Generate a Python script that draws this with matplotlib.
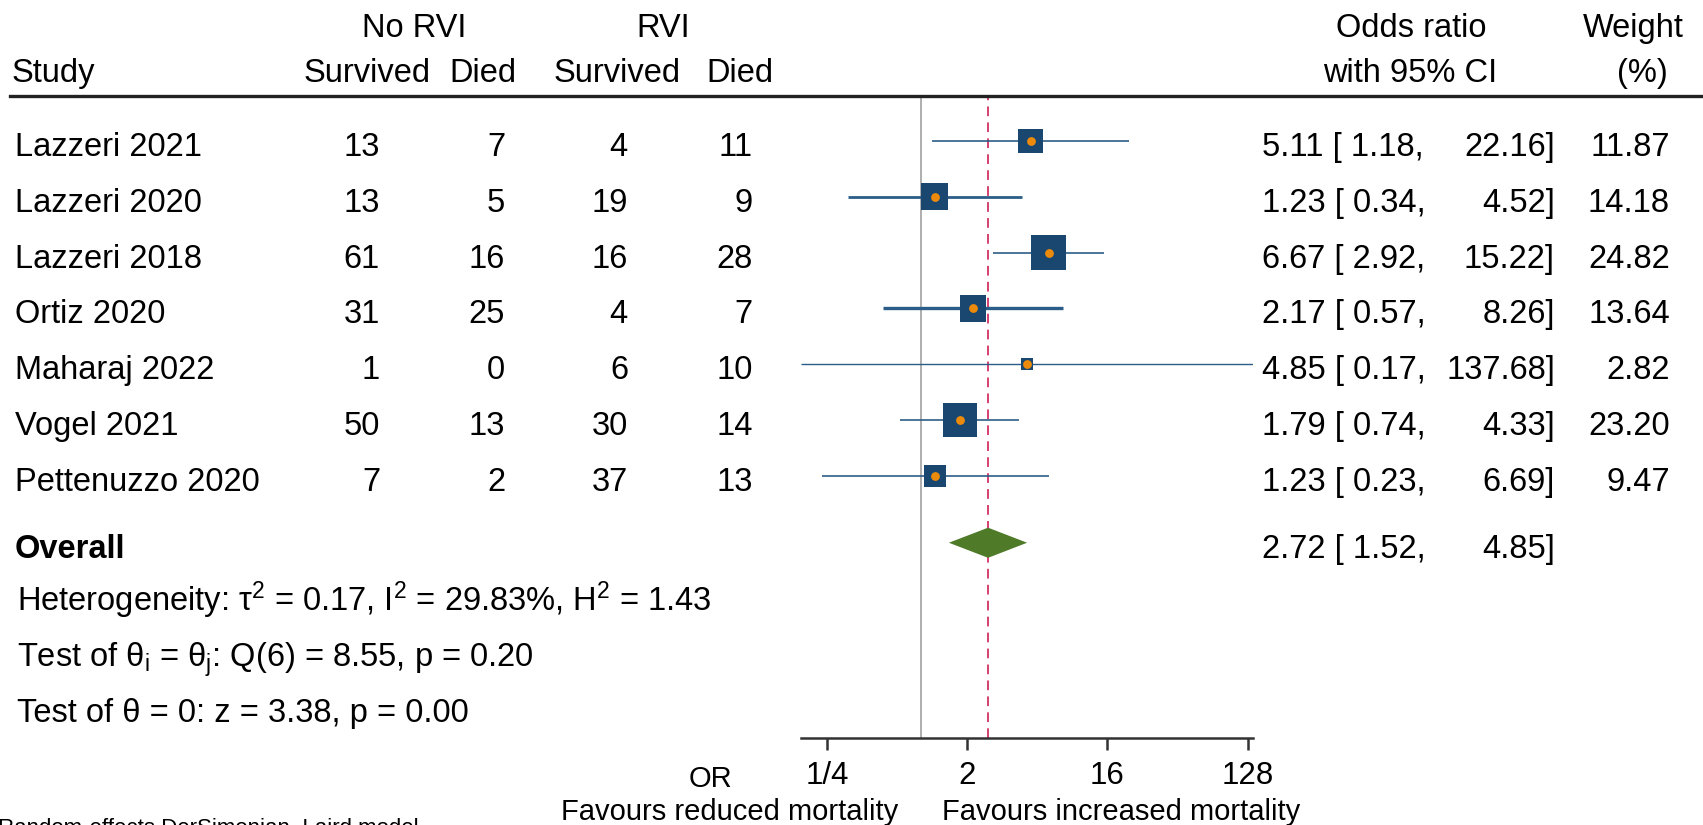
import numpy as np
import matplotlib
matplotlib.use("Agg")
import matplotlib.pyplot as plt
from matplotlib.transforms import blended_transform_factory

# данные forest plot
studies = ["Lazzeri 2021", "Lazzeri 2020", "Lazzeri 2018", "Ortiz 2020",
           "Maharaj 2022", "Vogel 2021", "Pettenuzzo 2020"]
norvi_survived = [13, 13, 61, 31, 1, 50, 7]
norvi_died = [7, 5, 16, 25, 0, 13, 2]
rvi_survived = [4, 19, 16, 4, 6, 30, 37]
rvi_died = [11, 9, 28, 7, 10, 14, 13]
odds_ratio = [5.11, 1.23, 6.67, 2.17, 4.85, 1.79, 1.23]
ci_low = [1.18, 0.34, 2.92, 0.57, 0.17, 0.74, 0.23]
ci_high = [22.16, 4.52, 15.22, 8.26, 137.68, 4.33, 6.69]
weight = [11.87, 14.18, 24.82, 13.64, 2.82, 23.20, 9.47]

overall_or = 2.72
overall_low = 1.52
overall_high = 4.85

tick_values = [0.25, 2, 16, 128]
tick_labels = ["1/4", "2", "16", "128"]

stats_lines = [
    "Heterogeneity: τ$^2$ = 0.17, I$^2$ = 29.83%, H$^2$ = 1.43",
    "Test of θ$_i$ = θ$_j$: Q(6) = 8.55, p = 0.20",
    "Test of θ = 0: z = 3.38, p = 0.00",
]

plt.rcParams['font.family'] = ['Liberation Sans', 'DejaVu Sans']
plt.rcParams['mathtext.fontset'] = 'custom'
plt.rcParams['mathtext.rm'] = 'Liberation Sans'
plt.rcParams['mathtext.it'] = 'Liberation Sans'
plt.rcParams['mathtext.bf'] = 'Liberation Sans:bold'
plt.rcParams['mathtext.default'] = 'regular'

W_PX, H_PX = 1703, 825
FS = 23.5


def fx(px):
    return px / W_PX


def fy(py):
    return 1 - py / H_PX


fig = plt.figure(figsize=(W_PX / 100, H_PX / 100), dpi=100)
ax = fig.add_axes([fx(801.3), fy(738), fx(1252.5) - fx(801.3), fy(97) - fy(738)])

n = len(studies)
ypos = np.arange(n)
y_overall = n + 0.2
y_stats = [n + 1.15, n + 2.15, n + 3.15]

# линии CI и квадраты
ci_lw = [1.2, 2.0, 1.2, 2.4, 1.0, 1.2, 1.2]
for i in range(n):
    ax.plot([ci_low[i], ci_high[i]], [ypos[i], ypos[i]], color='#2c5d88',
            lw=ci_lw[i], solid_capstyle='butt', zorder=2)
w = np.array(weight)
side_px = 35.7 * np.sqrt(w / w.max())
ax.scatter(odds_ratio, ypos, marker='s', s=(side_px * 0.72) ** 2,
           color='#1a476f', linewidths=0, zorder=3)
ax.scatter(odds_ratio, ypos, marker='o', s=40, color='#ec8a0c',
           linewidths=0, zorder=4)

# общий ромб
h = 0.27
ax.fill([overall_low, overall_or, overall_high, overall_or],
        [y_overall, y_overall - h, y_overall, y_overall + h],
        color='#4f7a28', lw=0, zorder=3)

ax.axvline(1, color='#a8a8a8', lw=1.3, zorder=1)
ax.axvline(overall_or, color='#d6406f', lw=1.4, ls=(0, (5, 3.2)), zorder=1)

ax.set_xscale('log', base=2)
ax.set_xlim(min(ci_low), max(ci_high))
ax.set_ylim(10.7, -0.79)
ax.set_xticks(tick_values)
ax.set_xticklabels(tick_labels, fontsize=22.5)
ax.xaxis.set_minor_locator(matplotlib.ticker.NullLocator())
ax.set_yticks([])
for s in ['top', 'left', 'right']:
    ax.spines[s].set_visible(False)
ax.spines['bottom'].set_color('#333333')
ax.spines['bottom'].set_linewidth(1.8)
ax.tick_params(axis='x', direction='out', length=8.6, width=1.8,
               color='#333333', pad=8)
ax.patch.set_alpha(0)

# таблица
tr = blended_transform_factory(fig.transFigure, ax.transData)
off = 0.27
x_left = 15
for i in range(n):
    y = ypos[i] + off
    fig.text(fx(x_left), y, studies[i], transform=tr, fontsize=FS, va='baseline')
    fig.text(fx(380), y, str(norvi_survived[i]), transform=tr, fontsize=FS,
             ha='right', va='baseline')
    fig.text(fx(505), y, str(norvi_died[i]), transform=tr, fontsize=FS,
             ha='right', va='baseline')
    fig.text(fx(628), y, str(rvi_survived[i]), transform=tr, fontsize=FS,
             ha='right', va='baseline')
    fig.text(fx(753), y, str(rvi_died[i]), transform=tr, fontsize=FS,
             ha='right', va='baseline')
    fig.text(fx(1262), y, f"{odds_ratio[i]:.2f} [{ci_low[i]:5.2f},",
             transform=tr, fontsize=FS, va='baseline')
    fig.text(fx(1555), y, f"{ci_high[i]:.2f}]", transform=tr, fontsize=FS,
             ha='right', va='baseline')
    fig.text(fx(1670), y, f"{weight[i]:.2f}", transform=tr, fontsize=FS,
             ha='right', va='baseline')

y = y_overall + off
fig.text(fx(x_left), y, "Overall", transform=tr, fontsize=FS, fontweight='bold',
         va='baseline')
fig.text(fx(1262), y, f"{overall_or:.2f} [{overall_low:5.2f},",
         transform=tr, fontsize=FS, va='baseline')
fig.text(fx(1555), y, f"{overall_high:.2f}]", transform=tr, fontsize=FS,
         ha='right', va='baseline')
for ys, line in zip(y_stats, stats_lines):
    fig.text(fx(x_left + 2), ys + off, line, transform=tr, fontsize=FS,
             va='baseline')

# заголовки
fig.text(fx(414), fy(37), "No RVI", fontsize=FS, ha='center', va='baseline')
fig.text(fx(663), fy(37), "RVI", fontsize=FS, ha='center', va='baseline')
fig.text(fx(1411), fy(37), "Odds ratio", fontsize=FS, ha='center', va='baseline')
fig.text(fx(1633), fy(37), "Weight", fontsize=FS, ha='center', va='baseline')
fig.text(fx(12), fy(82), "Study", fontsize=FS, va='baseline')
fig.text(fx(367), fy(82), "Survived", fontsize=FS, ha='center', va='baseline')
fig.text(fx(483), fy(82), "Died", fontsize=FS, ha='center', va='baseline')
fig.text(fx(617), fy(82), "Survived", fontsize=FS, ha='center', va='baseline')
fig.text(fx(740), fy(82), "Died", fontsize=FS, ha='center', va='baseline')
fig.text(fx(1410), fy(82), "with 95% CI", fontsize=FS, ha='center', va='baseline')
fig.text(fx(1642), fy(82), "(%)", fontsize=FS, ha='center', va='baseline')
fig.add_artist(plt.Line2D([fx(10), 1], [fy(96), fy(96)], color='#222222', lw=2.4))

# подписи оси
fig.text(fx(710), fy(787), "OR", fontsize=21, ha='center', va='baseline')
fig.text(fx(730), fy(820), "Favours reduced mortality", fontsize=21,
         ha='center', va='baseline')
fig.text(fx(1121), fy(820), "Favours increased mortality", fontsize=21,
         ha='center', va='baseline')
fig.text(fx(-2), fy(834), "Random-effects DerSimonian–Laird model", fontsize=16,
         va='baseline')

plt.savefig('out.png', dpi=100)
